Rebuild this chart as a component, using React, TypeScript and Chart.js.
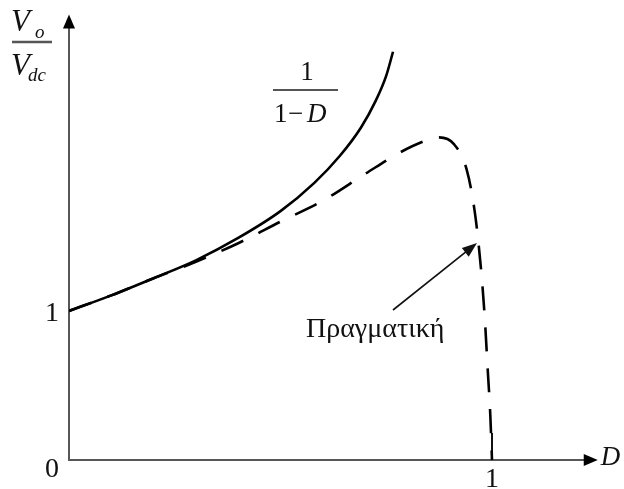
import React, { useEffect, useRef } from "react";
import { Chart, registerables } from "chart.js";

Chart.register(...registerables);

// Ideal boost-converter gain 1/(1-D)
const idealD = [0, 0.1, 0.2, 0.3, 0.4, 0.5, 0.58, 0.64, 0.69, 0.725, 0.75, 0.766];
const idealGain = [1, 1.105, 1.22, 1.34, 1.49, 1.67, 1.86, 2.04, 2.23, 2.41, 2.58, 2.74];

// Real (lossy) converter gain
const actualD = [0, 0.1, 0.2, 0.3, 0.4, 0.5, 0.6, 0.7, 0.78, 0.84, 0.875, 0.91, 0.94, 0.96, 0.975, 0.983, 0.99, 0.996, 1.0];
const actualGain = [1, 1.105, 1.22, 1.33, 1.455, 1.6, 1.74, 1.92, 2.06, 2.14, 2.165, 2.12, 1.95, 1.65, 1.25, 0.95, 0.6, 0.3, 0];

const yTicks = [0, 1];
const xTicks = [1];

const X_MAX = 1.25;
const Y_MAX = 2.99;

// plot geometry (pixels)
const W = 624;
const H = 489;
const LEFT = 69;
const BOTTOM = 460;
const X_UNIT = 423;
const Y_UNIT = 149;

const SERIF = '"Liberation Serif", "Times New Roman", Times, serif';

function arrowHead(ctx: CanvasRenderingContext2D, x1: number, y1: number, x2: number, y2: number, len: number, half: number) {
  const a = Math.atan2(y2 - y1, x2 - x1);
  ctx.beginPath();
  ctx.moveTo(x2, y2);
  ctx.lineTo(x2 - len * Math.cos(a) + half * Math.sin(a), y2 - len * Math.sin(a) - half * Math.cos(a));
  ctx.lineTo(x2 - len * Math.cos(a) - half * Math.sin(a), y2 - len * Math.sin(a) + half * Math.cos(a));
  ctx.closePath();
  ctx.fill();
}

const axesPlugin = {
  id: "schematicAxes",
  beforeDatasetsDraw(chart: any) {
    const ctx: CanvasRenderingContext2D = chart.ctx;
    const xs = chart.scales.x;
    const ys = chart.scales.y;
    const x0 = xs.getPixelForValue(0);
    const y0 = ys.getPixelForValue(0);
    const xEnd = xs.getPixelForValue(X_MAX);
    const yEnd = ys.getPixelForValue(Y_MAX);
    ctx.save();
    ctx.strokeStyle = "#575757";
    ctx.lineWidth = 2;
    ctx.beginPath();
    ctx.moveTo(x0, yEnd + 10);
    ctx.lineTo(x0, y0);
    ctx.lineTo(xEnd - 10, y0);
    ctx.stroke();
    ctx.fillStyle = "#000";
    arrowHead(ctx, x0, y0, x0, yEnd, 14, 6);
    arrowHead(ctx, x0, y0, xEnd, y0, 14, 6);

    // tick marks on the D axis
    ctx.strokeStyle = "#111";
    ctx.lineWidth = 2;
    xTicks.forEach((v) => {
      const px = xs.getPixelForValue(v);
      ctx.beginPath();
      ctx.moveTo(px, y0 - 27);
      ctx.lineTo(px, y0);
      ctx.stroke();
    });
    ctx.restore();
  },
  afterDatasetsDraw(chart: any) {
    const ctx: CanvasRenderingContext2D = chart.ctx;
    const xs = chart.scales.x;
    const ys = chart.scales.y;
    const x0 = xs.getPixelForValue(0);
    const y0 = ys.getPixelForValue(0);
    const xEnd = xs.getPixelForValue(X_MAX);
    ctx.save();
    ctx.fillStyle = "#111";

    // tick labels
    ctx.font = `28px ${SERIF}`;
    ctx.textAlign = "center";
    ctx.textBaseline = "alphabetic";
    yTicks.forEach((v) => {
      const py = ys.getPixelForValue(v);
      ctx.fillText(String(v), x0 - 17, v === 0 ? py + 17 : py + 10);
    });
    xTicks.forEach((v) => {
      ctx.fillText(String(v), xs.getPixelForValue(v), y0 + 27);
    });

    // axis name D
    ctx.font = `italic 27px ${SERIF}`;
    ctx.textAlign = "left";
    ctx.fillText("D", xEnd + 3, y0 + 5);

    // Vo / Vdc
    ctx.font = `italic 31px ${SERIF}`;
    ctx.fillText("V", 11, 31);
    ctx.fillText("V", 11, 75);
    ctx.font = `italic 19px ${SERIF}`;
    ctx.fillText("o", 35, 38);
    ctx.fillText("dc", 28, 81);
    ctx.strokeStyle = "#555";
    ctx.lineWidth = 2.5;
    ctx.beginPath();
    ctx.moveTo(12, 42);
    ctx.lineTo(52, 42);
    ctx.stroke();

    // 1 / (1 - D)
    ctx.font = `27px ${SERIF}`;
    ctx.textAlign = "center";
    ctx.fillText("1", 307, 80);
    ctx.beginPath();
    ctx.moveTo(273, 90);
    ctx.lineTo(338, 90);
    ctx.lineWidth = 2;
    ctx.stroke();
    ctx.textAlign = "left";
    ctx.fillText("1", 274, 122);
    ctx.fillText("\u2212", 288, 122);
    ctx.font = `italic 27px ${SERIF}`;
    ctx.fillText("D", 307, 122);

    // annotation for the real curve
    ctx.font = `28px ${SERIF}`;
    ctx.fillText("Πραγματική", 306, 337);
    ctx.strokeStyle = "#111";
    ctx.lineWidth = 1.6;
    const ax1 = 393, ay1 = 310, ax2 = 477, ay2 = 243;
    ctx.beginPath();
    ctx.moveTo(ax1, ay1);
    ctx.lineTo(ax2 - 8, ay2 + 6.4);
    ctx.stroke();
    arrowHead(ctx, ax1, ay1, ax2, ay2, 15, 5.5);
    ctx.restore();
  },
};

export default function App() {
  const ref = useRef<HTMLCanvasElement | null>(null);

  useEffect(() => {
    if (!ref.current) return;
    document.body.style.margin = "0";
    const chart = new Chart(ref.current, {
      type: "line",
      data: {
        datasets: [
          {
            label: "1/(1-D)",
            data: idealD.map((d, i) => ({ x: d, y: idealGain[i] })),
            borderColor: "#000",
            borderWidth: 2.6,
            pointRadius: 0,
            cubicInterpolationMode: "monotone",
            fill: false,
            order: 0,
          },
          {
            label: "Πραγματική",
            data: actualD.map((d, i) => ({ x: d, y: actualGain[i] })),
            borderColor: "#000",
            borderWidth: 2.6,
            borderDash: [24, 17],
            pointRadius: 0,
            cubicInterpolationMode: "monotone",
            fill: false,
            order: 1,
          },
        ],
      },
      options: {
        animation: false,
        responsive: true,
        maintainAspectRatio: false,
        layout: {
          padding: {
            left: LEFT,
            right: W - (LEFT + X_MAX * X_UNIT),
            top: BOTTOM - Y_MAX * Y_UNIT,
            bottom: H - BOTTOM,
          },
        },
        plugins: { legend: { display: false }, tooltip: { enabled: false } },
        scales: {
          x: { type: "linear", min: 0, max: X_MAX, display: false },
          y: { type: "linear", min: 0, max: Y_MAX, display: false },
        },
      },
      plugins: [axesPlugin],
    });
    return () => chart.destroy();
  }, []);

  return (
    <div style={{ position: "fixed", left: 0, top: 0, width: W, height: H, background: "#fff" }}>
      <canvas ref={ref} />
    </div>
  );
}
